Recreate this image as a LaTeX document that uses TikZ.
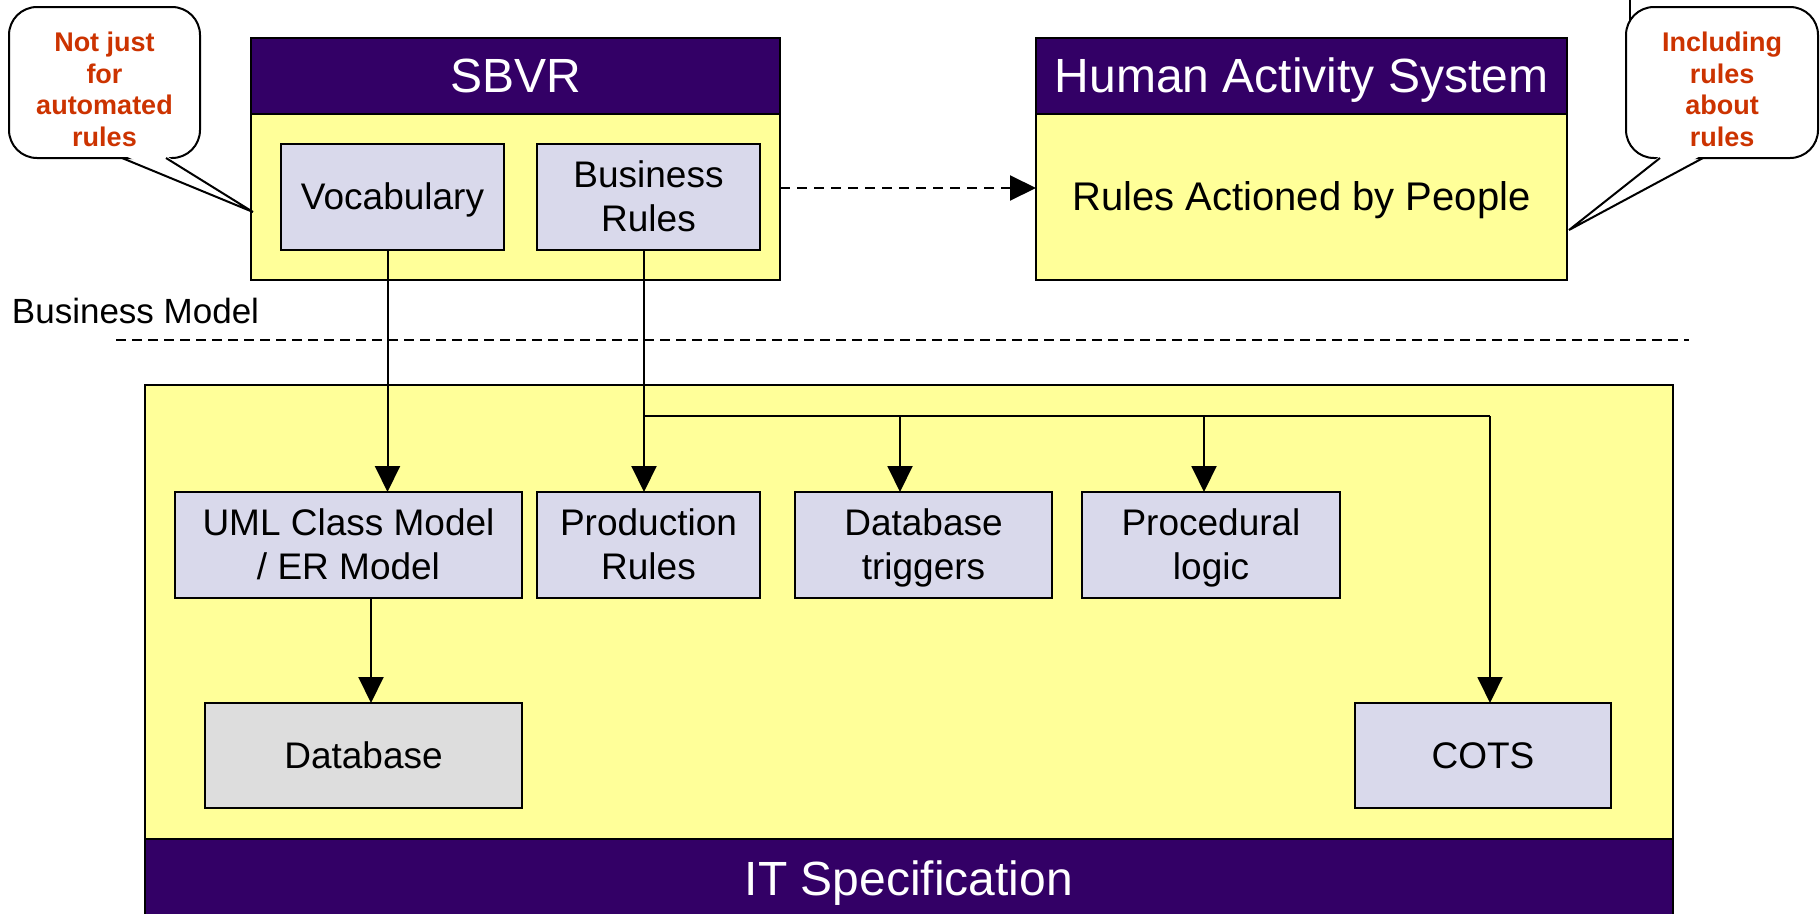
\documentclass[tikz,border=0pt]{standalone}
\usepackage{fontspec}
\setmainfont{Liberation Sans}
\usetikzlibrary{arrows.meta}
\definecolor{hdr}{RGB}{51,0,102}
\definecolor{pale}{RGB}{255,255,153}
\definecolor{lav}{RGB}{217,217,235}
\definecolor{dbgray}{RGB}{221,221,221}
\definecolor{note}{RGB}{204,51,0}
\newcommand{\topstrut}{\rule{0pt}{0.905em}}
\newcommand{\botstrut}{\rule[-0.212em]{0pt}{0.212em}}
\newcommand{\cstrut}{\rule{0pt}{\dimexpr0.905em+14pt\relax}}
\begin{document}
\begin{tikzpicture}[x=1pt,y=-1pt,
 every node/.style={inner sep=0pt, outer sep=0pt},
 pptext/.style={execute at begin node=\topstrut, execute at end node=\botstrut},
 hdrbox/.style={draw=black, line width=2pt, fill=hdr, text=white, pptext, font=\fontsize{48}{56}\selectfont},
 bodybox/.style={draw=black, line width=2pt, fill=pale, pptext},
 itembox/.style={draw=black, line width=2pt, fill=lav, align=center, pptext, font=\fontsize{37}{44}\selectfont},
 arr/.style={line width=2pt, -{Triangle[length=26pt,width=25pt]}},
 callout/.style={draw=black, line width=2pt, fill=white, rounded corners=28pt, align=center, text=note,
   execute at end node=\botstrut,
   font=\fontsize{27}{31.5}\selectfont\bfseries},
 tail/.style={draw=black, line width=2pt, line join=miter},
]
\useasboundingbox (0,0) rectangle (1820,913);

% SBVR
\node[bodybox, minimum width=529pt, minimum height=166pt] (sbvrbody) at (515.5,197) {};
\node[hdrbox, minimum width=529pt, minimum height=76pt] (sbvrhead) at (515.5,76) {SBVR};
\node[itembox, minimum width=223pt, minimum height=106pt] (voc) at (392.5,197) {Vocabulary};
\node[itembox, minimum width=223pt, minimum height=106pt] (brules) at (648.5,197) {\topstrut Business\\Rules};

% Human Activity System
\node[bodybox, minimum width=531pt, minimum height=166pt, font=\fontsize{40}{48}\selectfont] (hasbody) at (1301.5,197) {Rules Actioned by People};
\node[hdrbox, minimum width=531pt, minimum height=76pt] (hashead) at (1301.5,76) {Human Activity System};

\draw[arr, dash pattern=on 10pt off 7pt] ([yshift=9pt]sbvrbody.east) -- ([yshift=9pt]hasbody.west);

% Business model divider
\node[anchor=west, font=\fontsize{35}{40}\selectfont] (bm) at (12,311) {Business Model};
\coordinate (dl) at (116,340);
\coordinate (dr) at (1689,340);
\draw[line width=2pt, dash pattern=on 10pt off 6pt] (dl) -- (dr);

% IT specification
\node[bodybox, minimum width=1528pt, minimum height=454pt] (itbody) at (909,612) {};
\node[hdrbox, minimum width=1528pt, minimum height=80pt] (ithead) at (909,879) {IT Specification};

\node[itembox, minimum width=347pt, minimum height=106pt] (uml) at (348.5,545) {\topstrut UML Class Model\\/ ER Model};
\node[itembox, minimum width=223pt, minimum height=106pt] (prod) at (648.5,545) {\topstrut Production\\Rules};
\node[itembox, minimum width=257pt, minimum height=106pt] (trig) at (923.5,545) {\topstrut Database\\triggers};
\node[itembox, minimum width=258pt, minimum height=106pt] (proc) at (1211,545) {\topstrut Procedural\\logic};
\node[itembox, fill=dbgray, minimum width=317pt, minimum height=105pt] (db) at (363.5,755.5) {Database};
\node[itembox, minimum width=256pt, minimum height=105pt] (cots) at (1483,755.5) {COTS};

% connectors
\coordinate (vx) at ([xshift=-5pt]voc.south);
\draw[arr] (vx) -- (vx |- uml.north);
\coordinate (bx) at ([xshift=-4.5pt]brules.south);
\draw[arr] (bx) -- (bx |- prod.north);
\coordinate (br) at (644,416);
\coordinate (b1) at (900,416);
\coordinate (b2) at (1204,416);
\coordinate (b3) at (1490,416);
\draw[line width=2pt] (br) -- (b3);
\draw[arr] (b1) -- (b1 |- trig.north);
\draw[arr] (b2) -- (b2 |- proc.north);
\draw[arr] (b3) -- (b3 |- cots.north);
\coordinate (ux) at (371,0);
\draw[arr] (ux |- uml.south) -- (ux |- db.north);

% left callout
\node[callout, minimum width=191pt, minimum height=151pt] (c1) at (104.5,82.5) {\cstrut Not just\\for\\automated\\rules};
\coordinate (t1) at (253,212);
\fill[white] (123,155) -- (t1) -- (165,155) -- cycle;
\draw[tail] (122,158) -- (t1) -- (166,158);

% right callout
\coordinate (sl) at (1630,0);
\draw[line width=2pt] (sl) -- (1630,30);
\node[callout, minimum width=192pt, minimum height=151pt] (c2) at (1722,82.5) {\cstrut Including\\rules\\about\\rules};
\coordinate (t2) at (1569,230);
\fill[white] (1661,155) -- (t2) -- (1702,155) -- cycle;
\draw[tail] (1660,158) -- (t2) -- (1703,158);
\end{tikzpicture}
\end{document}
